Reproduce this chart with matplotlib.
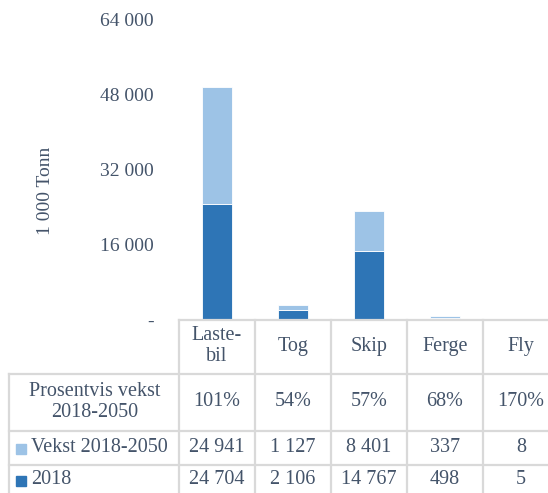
import matplotlib.pyplot as plt
import numpy as np

# data
categories = ["Laste-\nbil", "Tog", "Skip", "Ferge", "Fly"]
base_2018 = [24704, 2106, 14767, 498, 5]
growth = [24941, 1127, 8401, 337, 8]
pct_growth = ["101%", "54%", "57%", "68%", "170%"]
yticks = [0, 16000, 32000, 48000, 64000]
ytick_labels = ["-", "16 000", "32 000", "48 000", "64 000"]

W, H = 548, 493
dark = "#2E75B6"
light = "#9DC3E6"
txt = "#44546A"
grid = "#D9D9D9"

plt.rcParams['font.family'] = ['Liberation Serif', 'DejaVu Serif']

def fmt(v):
    return f"{v:,}".replace(",", " ")

fig = plt.figure(figsize=(W / 100, H / 100), dpi=100)

# pixel layout of the chart area
x0, col_w = 179, 76
y_zero, y_top = 320, 19
ax = fig.add_axes([x0 / W, 1 - y_zero / H, (W - x0) / W, (y_zero - y_top) / H])
x = np.arange(len(categories))
ax.bar(x, base_2018, width=0.4, color=dark, edgecolor="white", linewidth=0.6)
ax.bar(x, growth, width=0.4, bottom=base_2018, color=light, edgecolor="white", linewidth=0.6)
ax.set_xlim(-0.5, -0.5 + (W - x0) / col_w)
ax.set_ylim(0, 64000)
ax.set_yticks(yticks)
ax.set_yticklabels(ytick_labels)
ax.tick_params(axis='y', length=0, pad=18, labelsize=14, labelcolor=txt)
ax.set_xticks([])
for s in ax.spines.values():
    s.set_visible(False)
ax.patch.set_alpha(0)

fs = 14.5
fig.text(45 / W, 1 - 191 / H, "1 000 Tonn", rotation=90, ha="center", va="center",
         fontsize=14, color=txt)

# data table below the chart, drawn in pixel coordinates
tab = fig.add_axes([0, 0, 1, 1])
tab.set_xlim(0, W)
tab.set_ylim(H, 0)
tab.axis("off")
tab.patch.set_alpha(0)

row_lines = [320, 374, 431, 465]
col_lines = [x0 + i * col_w for i in range(len(categories) + 1)]
lw = 1.6
tab.plot([x0, W], [row_lines[0]] * 2, color=grid, lw=lw)
for yl in row_lines[1:]:
    tab.plot([9, W], [yl, yl], color=grid, lw=lw)
tab.plot([9, 9], [row_lines[1], H], color=grid, lw=lw)
for xl in col_lines:
    tab.plot([xl, xl], [row_lines[0], H], color=grid, lw=lw)

centers = [x0 + (i + 0.5) * col_w for i in range(len(categories))]
row_y = [346, 402, 448, 480]
for i, c in enumerate(categories):
    tab.text(centers[i], row_y[0], c, ha="center", va="center", fontsize=fs,
             color=txt, linespacing=1.1)
    tab.text(centers[i], row_y[1], pct_growth[i], ha="center", va="center", fontsize=fs, color=txt)
    tab.text(centers[i], row_y[2], fmt(growth[i]), ha="center", va="center", fontsize=fs, color=txt)
    tab.text(centers[i], row_y[3], fmt(base_2018[i]), ha="center", va="center", fontsize=fs, color=txt)

tab.text(95, row_y[1], "Prosentvis vekst\n2018-2050", ha="center", va="center",
         fontsize=fs, color=txt, linespacing=1.1)
tab.plot([21], [row_y[2] + 1], marker="s", ms=7, color=light, ls="none")
tab.text(31, row_y[2], "Vekst 2018-2050", ha="left", va="center", fontsize=fs, color=txt)
tab.plot([21], [row_y[3] + 1], marker="s", ms=7, color=dark, ls="none")
tab.text(31, row_y[3], "2018", ha="left", va="center", fontsize=fs, color=txt)

plt.savefig("out.png", dpi=100)
